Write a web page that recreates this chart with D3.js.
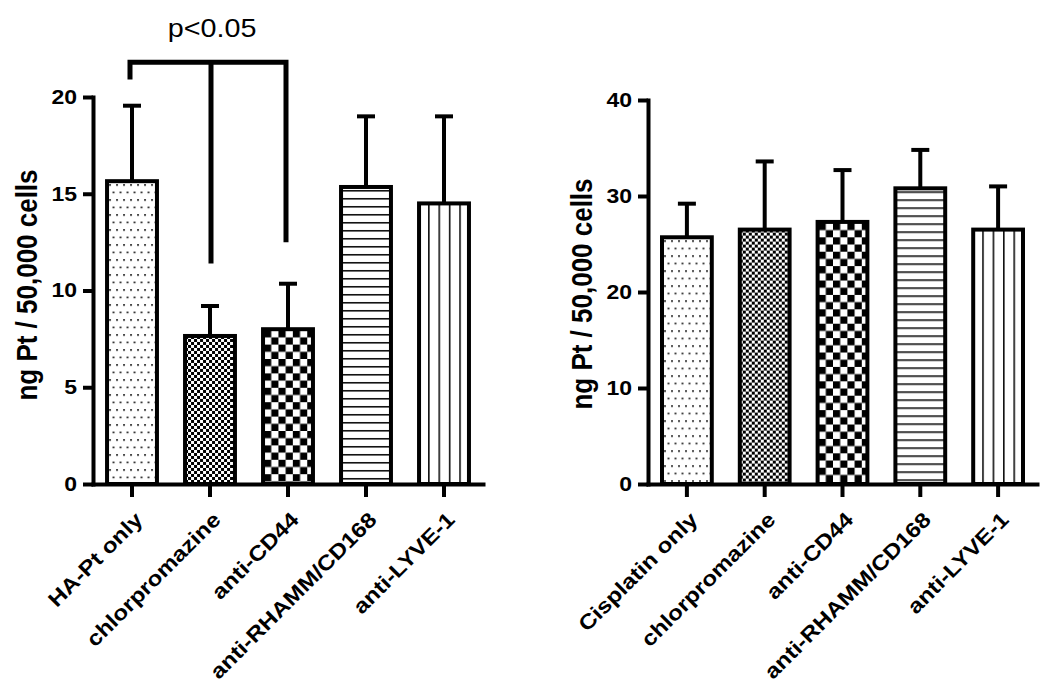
<!DOCTYPE html>
<html>
<head>
<meta charset="utf-8">
<script src="https://cdn.jsdelivr.net/npm/d3@7"></script>
<style>
  html, body { margin: 0; padding: 0; background: #fff; }
  svg { display: block; }
  text { font-family: "Liberation Sans", Arial, sans-serif; fill: #000; }
</style>
</head>
<body>
<script>
// ---------- data ----------
const leftCategories = ["HA-Pt only", "chlorpromazine", "anti-CD44", "anti-RHAMM/CD168", "anti-LYVE-1"];
const leftMeans = [15.65, 7.65, 8.0, 15.35, 14.5];
const leftErrors = [3.9, 1.55, 2.35, 3.65, 4.5];
const leftTicks = [0, 5, 10, 15, 20];

const rightCategories = ["Cisplatin only", "chlorpromazine", "anti-CD44", "anti-RHAMM/CD168", "anti-LYVE-1"];
const rightMeans = [25.7, 26.5, 27.3, 30.8, 26.5];
const rightErrors = [3.5, 7.1, 5.4, 4.0, 4.5];
const rightTicks = [0, 10, 20, 30, 40];

const yAxisLabel = "ng Pt / 50,000 cells";
const sigLabel = "p<0.05";
const sigTop = 21.8;
const sigCategories = ["HA-Pt only", "chlorpromazine", "anti-CD44"];
const sigBottoms = [20.9, 11.4, 12.5];

const patternKinds = ["dots", "fineCheck", "coarseCheck", "hLines", "vLines"];

// text in the reference is rendered wider than Arial
const SX = 1.15;

// ---------- drawing ----------
const svg = d3.select("body").append("svg").attr("width", 1050).attr("height", 697);
const defs = svg.append("defs");

function makePattern(id, kind, bx, by) {
  let p;
  if (kind === "dots") {
    p = defs.append("pattern").attr("id", id).attr("patternUnits", "userSpaceOnUse")
      .attr("x", bx + 2).attr("y", by + 3).attr("width", 7).attr("height", 15);
    p.append("rect").attr("width", 7).attr("height", 15).attr("fill", "#fff");
    p.append("rect").attr("x", 0).attr("y", 0).attr("width", 2).attr("height", 1.6).attr("fill", "#222");
    p.append("rect").attr("x", 3.5).attr("y", 7.5).attr("width", 2).attr("height", 1.6).attr("fill", "#222");
  } else if (kind === "fineCheck") {
    p = defs.append("pattern").attr("id", id).attr("patternUnits", "userSpaceOnUse")
      .attr("x", bx).attr("y", by).attr("width", 6).attr("height", 6);
    p.append("rect").attr("width", 6).attr("height", 6).attr("fill", "#fff");
    p.append("rect").attr("width", 3).attr("height", 3).attr("fill", "#000");
    p.append("rect").attr("x", 3).attr("y", 3).attr("width", 3).attr("height", 3).attr("fill", "#000");
  } else if (kind === "coarseCheck") {
    p = defs.append("pattern").attr("id", id).attr("patternUnits", "userSpaceOnUse")
      .attr("x", bx + 1).attr("y", by + 1).attr("width", 14.4).attr("height", 14.4);
    p.append("rect").attr("width", 14.4).attr("height", 14.4).attr("fill", "#fff");
    p.append("rect").attr("width", 7.2).attr("height", 7.2).attr("fill", "#000");
    p.append("rect").attr("x", 7.2).attr("y", 7.2).attr("width", 7.2).attr("height", 7.2).attr("fill", "#000");
  } else if (kind === "hLines") {
    p = defs.append("pattern").attr("id", id).attr("patternUnits", "userSpaceOnUse")
      .attr("x", bx).attr("y", by + 3).attr("width", 10).attr("height", 8);
    p.append("rect").attr("width", 10).attr("height", 8).attr("fill", "#fff");
    p.append("rect").attr("y", 0).attr("width", 10).attr("height", 1.6).attr("fill", "#111");
  } else {
    p = defs.append("pattern").attr("id", id).attr("patternUnits", "userSpaceOnUse")
      .attr("x", bx + 9).attr("y", by).attr("width", 10.4).attr("height", 10);
    p.append("rect").attr("width", 10.4).attr("height", 10).attr("fill", "#fff");
    p.append("rect").attr("x", 0).attr("width", 1.6).attr("height", 10).attr("fill", "#111");
  }
}

function drawPanel(cfg) {
  const g = svg.append("g");
  const x = d3.scaleBand().domain(cfg.categories).range([cfg.x0, cfg.x1])
    .paddingInner(0.36).paddingOuter(0.18);
  const y = d3.scaleLinear().domain([0, d3.max(cfg.ticks)]).range([484, cfg.yTop]);

  const data = cfg.categories.map((c, i) => ({ c, i, m: cfg.means[i], e: cfg.errors[i] }));

  data.forEach(d => makePattern(`${cfg.id}-p${d.i}`, patternKinds[d.i], x(d.c), y(d.m)));

  // error bars
  const eb = g.append("g").attr("stroke", "#000").attr("stroke-width", 4);
  eb.selectAll("line.v").data(data).join("line").attr("class", "v")
    .attr("x1", d => x(d.c) + x.bandwidth() / 2).attr("x2", d => x(d.c) + x.bandwidth() / 2)
    .attr("y1", d => y(d.m)).attr("y2", d => y(d.m + d.e));
  eb.selectAll("line.cap").data(data).join("line").attr("class", "cap")
    .attr("x1", d => x(d.c) + x.bandwidth() / 2 - 9).attr("x2", d => x(d.c) + x.bandwidth() / 2 + 9)
    .attr("y1", d => y(d.m + d.e)).attr("y2", d => y(d.m + d.e));

  // bars
  g.append("g").selectAll("rect").data(data).join("rect")
    .attr("x", d => x(d.c)).attr("y", d => y(d.m))
    .attr("width", x.bandwidth()).attr("height", d => y(0) - y(d.m))
    .attr("fill", d => `url(#${cfg.id}-p${d.i})`)
    .attr("stroke", "#000").attr("stroke-width", 4);

  // y axis
  const ya = g.append("g").attr("transform", `translate(${cfg.x0},0)`)
    .call(d3.axisLeft(y).tickValues(cfg.ticks).tickSize(10).tickSizeOuter(0).tickPadding(6));
  ya.select(".domain").attr("stroke-width", 4).attr("stroke-linecap", "square");
  ya.selectAll(".tick line").attr("stroke-width", 4);
  ya.selectAll(".tick text").attr("x", null)
    .attr("transform", `translate(-16,0) scale(${SX},1)`)
    .attr("font-size", 20).attr("font-weight", "bold")
    .attr("font-family", "Liberation Sans, Arial, sans-serif").attr("fill", "#000");

  // x axis
  const xa = g.append("g").attr("transform", `translate(0,${y(0)})`)
    .call(d3.axisBottom(x).tickSize(13).tickSizeOuter(0).tickFormat(""));
  xa.select(".domain").attr("stroke-width", 4).attr("stroke-linecap", "square");
  xa.selectAll(".tick line").attr("stroke-width", 4);

  // rotated category labels
  g.append("g").selectAll("text").data(data).join("text")
    .attr("transform", d => `translate(${x(d.c) + x.bandwidth() / 2 + 12},${y(0) + 37}) rotate(-45) scale(${SX},1)`)
    .attr("text-anchor", "end").attr("font-size", 21).attr("font-weight", "bold")
    .text(d => d.c);

  // y label
  g.append("text")
    .attr("transform", `translate(${cfg.labelX},${cfg.labelY}) scale(${SX},1) rotate(-90)`)
    .attr("text-anchor", "middle").attr("font-size", 26).attr("font-weight", "bold")
    .text(yAxisLabel);

  return { x, y, g };
}

const left = drawPanel({
  id: "L", categories: leftCategories, means: leftMeans, errors: leftErrors, ticks: leftTicks,
  x0: 93, x1: 483, yTop: 97, labelX: 37, labelY: 285
});
drawPanel({
  id: "R", categories: rightCategories, means: rightMeans, errors: rightErrors, ticks: rightTicks,
  x0: 648, x1: 1037, yTop: 100, labelX: 592, labelY: 294
});

// significance bracket
{
  const { x, y, g } = left;
  const cx = c => x(c) + x.bandwidth() / 2;
  const x1 = cx(sigCategories[0]) - 2, x3 = cx(sigCategories[2]) - 2;
  const br = g.append("g").attr("fill", "none").attr("stroke", "#000").attr("stroke-width", 5);
  br.append("path").attr("d",
    `M${x1},${y(sigBottoms[0])}V${y(sigTop)}H${x3}V${y(sigBottoms[2])}`);
  br.append("path").attr("d",
    `M${cx(sigCategories[1]) + 1},${y(sigTop)}V${y(sigBottoms[1])}`);
  g.append("text")
    .attr("transform", `translate(${cx(sigCategories[1]) + 2},37) scale(${SX},1)`)
    .attr("text-anchor", "middle").attr("font-size", 25)
    .text(sigLabel);
}
</script>
</body>
</html>
